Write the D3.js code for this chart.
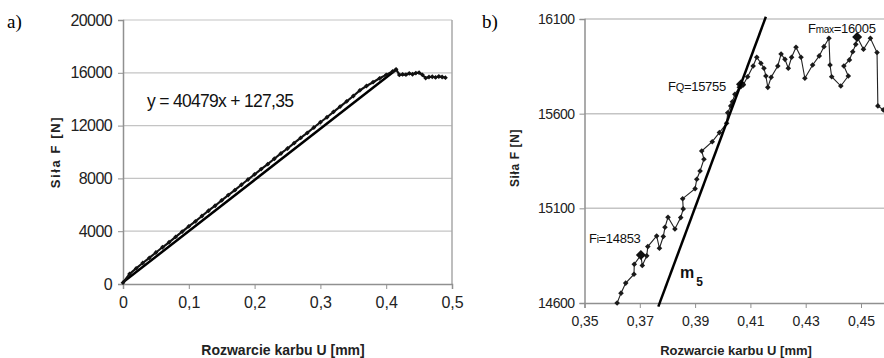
<!DOCTYPE html>
<html>
<head>
<meta charset="utf-8">
<script src="https://cdn.jsdelivr.net/npm/d3@7"></script>
<style>
  body { margin: 0; background: #fff; }
  svg { font-family: "Liberation Sans", Arial, sans-serif; }
</style>
</head>
<body>
<div class="chart"></div>
<script>
// a) whole test
const leftTicksX = [0, 0.1, 0.2, 0.3, 0.4, 0.5]
const leftTicksY = [0, 4000, 8000, 12000, 16000, 20000]
const leftU = [0, 0.01, 0.02, 0.03, 0.04, 0.05, 0.06, 0.07, 0.08, 0.09, 0.10, 0.11, 0.12, 0.13, 0.14, 0.15, 0.16, 0.17, 0.18, 0.19, 0.20,
  0.21, 0.22, 0.23, 0.24, 0.25, 0.26, 0.27, 0.28, 0.29, 0.30, 0.31, 0.32, 0.33, 0.34, 0.35, 0.36, 0.37, 0.38, 0.39, 0.40, 0.41, 0.415,
  0.42, 0.425, 0.43, 0.435, 0.44, 0.445, 0.45, 0.455, 0.46, 0.465, 0.47, 0.475, 0.48, 0.485, 0.49]
const leftF = [100, 765, 1183, 1591, 1979, 2387, 2784, 3162, 3570, 3968, 4366, 4744, 5152, 5550, 5928, 6336, 6733, 7111, 7519, 7917, 8305,
  8703, 9081, 9489, 9887, 10265, 10672, 11070, 11448, 11856, 12254, 12632, 13040, 13438, 13836, 14244, 14671, 14999, 15287, 15585, 15843, 16111, 16265,
  15840, 15880, 15860, 15950, 15890, 15980, 16010, 15850, 15600, 15680, 15700, 15650, 15720, 15680, 15630]
const fitU = [0, 0.416]
const fitF = [127, 16265]
const fitLabel = 'y = 40479x + 127,35'

// b) detail near FQ
const rightTicksX = [0.35, 0.37, 0.39, 0.41, 0.43, 0.45]
const rightTicksY = [14600, 15100, 15600, 16100]
const rightU = [0.3618, 0.3632, 0.3649, 0.3679, 0.3680, 0.3704, 0.3709, 0.3725, 0.3729, 0.3761, 0.3771, 0.3785, 0.3791, 0.3802, 0.3827,
  0.3848, 0.3857, 0.3855, 0.3900, 0.3906, 0.3918, 0.3932, 0.3924, 0.3962, 0.3988, 0.4014, 0.4018, 0.4029, 0.4035, 0.4044, 0.4060, 0.4066,
  0.4074, 0.4090, 0.4110, 0.4123, 0.4138, 0.4149, 0.4156, 0.4163, 0.4175, 0.4199, 0.4211, 0.4225, 0.4237, 0.4249, 0.4265, 0.4283, 0.4297,
  0.4325, 0.4349, 0.4366, 0.4384, 0.4388, 0.4394, 0.4427, 0.4454, 0.4438, 0.4458, 0.4470, 0.4481, 0.4486, 0.4509, 0.4534, 0.4558, 0.4561,
  0.4581, 0.4600]
const rightF = [14600, 14652, 14705, 14752, 14805, 14853, 14798, 14849, 14898, 14954, 14889, 14951, 15000, 15053, 14991,
  15051, 15097, 15151, 15204, 15254, 15297, 15359, 15403, 15452, 15500, 15549, 15605, 15641, 15663, 15702, 15739, 15755,
  15752, 15795, 15852, 15898, 15866, 15840, 15799, 15739, 15792, 15852, 15915, 15887, 15840, 15898, 15951, 15898, 15787,
  15857, 15905, 15954, 15998, 15857, 15795, 15746, 15799, 15852, 15884, 15927, 15966, 16005, 15940, 15998, 15923, 15641,
  15620, 15600]
const m5U = [0.3767, 0.4156]
const m5F = [14581, 16112]
const marks = [
  {i: 5, sub: 'i', label: '=14853'},
  {i: 31, sub: 'Q', label: '=15755'},
  {i: 61, sub: 'max', label: '=16005'}
]

const width = 884
const height = 358

let svg = d3.select('.chart')
  .append('svg')
  .attr('width', width)
  .attr('height', height)

const comma = d => String(d).replace('.', ',')
const diamond = r => `M0,${-r}L${r},0L0,${r}L${-r},0Z`

// ---------- a) ----------
let xL = d3.scaleLinear().domain([0, 0.5]).range([123, 452])
let yL = d3.scaleLinear().domain([0, 20000]).range([284, 20])

let gL = svg.append('g')

gL.selectAll('.grid')
  .data(leftTicksY.slice(1))
  .enter()
  .append('line')
  .attr('x1', xL(0)).attr('x2', xL(0.5))
  .attr('y1', d => yL(d)).attr('y2', d => yL(d))
  .attr('stroke', '#c4c4c4')
  .attr('stroke-width', 1.2)

gL.append('line')
  .attr('x1', xL(0.5)).attr('x2', xL(0.5))
  .attr('y1', yL(0)).attr('y2', yL(20000))
  .attr('stroke', '#a8a8a8').attr('stroke-width', 1.5)

gL.append('g')
  .attr('transform', `translate(0,${yL(0)})`)
  .call(d3.axisBottom(xL).tickValues(leftTicksX).tickSize(5).tickPadding(8).tickFormat(comma))
  .call(g => g.select('.domain').attr('stroke', '#909090').attr('stroke-width', 1.5))
  .call(g => g.selectAll('.tick line').attr('stroke', '#909090'))
  .call(g => g.selectAll('text').attr('font-size', 16).attr('fill', '#222').attr('font-family', '"Liberation Sans", Arial'))

gL.append('g')
  .attr('transform', `translate(${xL(0)},0)`)
  .call(d3.axisLeft(yL).tickValues(leftTicksY).tickSize(5).tickPadding(6).tickFormat(d => d))
  .call(g => g.select('.domain').attr('stroke', '#909090').attr('stroke-width', 1.5))
  .call(g => g.selectAll('.tick line').attr('stroke', '#909090'))
  .call(g => g.selectAll('text').attr('font-size', 16).attr('fill', '#222').attr('letter-spacing', -0.6).attr('font-family', '"Liberation Sans", Arial'))

let lineL = d3.line().x(d => xL(d[0])).y(d => yL(d[1]))

gL.append('path')
  .datum(d3.zip(fitU, fitF))
  .attr('d', lineL)
  .attr('fill', 'none')
  .attr('stroke', '#000')
  .attr('stroke-width', 2.5)

gL.append('path')
  .datum(d3.zip(leftU, leftF))
  .attr('d', lineL)
  .attr('fill', 'none')
  .attr('stroke', '#111')
  .attr('stroke-width', 2.2)

gL.selectAll('.ptL')
  .data(d3.zip(leftU, leftF))
  .enter()
  .append('path')
  .attr('d', diamond(2.4))
  .attr('transform', d => `translate(${xL(d[0])},${yL(d[1])})`)
  .attr('fill', '#111')

gL.append('text')
  .attr('x', 147).attr('y', 107)
  .attr('font-size', 17.5)
  .attr('letter-spacing', -0.7)
  .attr('fill', '#111')
  .text(fitLabel)

gL.append('text')
  .attr('transform', 'translate(60,152) rotate(-90)')
  .attr('text-anchor', 'middle')
  .attr('font-size', 13)
  .attr('font-weight', 'bold')
  .attr('letter-spacing', 1.6)
  .attr('fill', '#222')
  .text('Siła F [N]')

gL.append('text')
  .attr('x', 283).attr('y', 355)
  .attr('text-anchor', 'middle')
  .attr('font-size', 14)
  .attr('font-weight', 'bold')
  .attr('fill', '#222')
  .text('Rozwarcie karbu U [mm]')

svg.append('text')
  .attr('x', 7).attr('y', 28)
  .attr('font-size', 19)
  .style('font-family', '"Liberation Serif", "Times New Roman", serif')
  .text('a)')

// ---------- b) ----------
let xR = d3.scaleLinear().domain([0.35, 0.47]).range([584.5, 584.5 + 0.12 * 2765])
let yR = d3.scaleLinear().domain([14600, 16100]).range([303, 19])

let gR = svg.append('g')

gR.selectAll('.grid')
  .data(rightTicksY.slice(1))
  .enter()
  .append('line')
  .attr('x1', xR(0.35)).attr('x2', xR(0.47))
  .attr('y1', d => yR(d)).attr('y2', d => yR(d))
  .attr('stroke', '#c4c4c4')
  .attr('stroke-width', 1.5)

gR.append('g')
  .attr('transform', `translate(0,${yR(14600)})`)
  .call(d3.axisBottom(xR).tickValues(rightTicksX).tickSize(5).tickPadding(8).tickFormat(d => comma(d.toFixed(2))))
  .call(g => g.select('.domain').attr('stroke', '#909090').attr('stroke-width', 1.5))
  .call(g => g.selectAll('.tick line').attr('stroke', '#909090'))
  .call(g => g.selectAll('text').attr('font-size', 14).attr('fill', '#222').attr('font-family', '"Liberation Sans", Arial'))

gR.append('g')
  .attr('transform', `translate(${xR(0.35)},0)`)
  .call(d3.axisLeft(yR).tickValues(rightTicksY).tickSize(5).tickPadding(5).tickFormat(d => d))
  .call(g => g.select('.domain').attr('stroke', '#909090').attr('stroke-width', 1.5))
  .call(g => g.selectAll('.tick line').attr('stroke', '#909090'))
  .call(g => g.selectAll('text').attr('font-size', 14).attr('fill', '#222').attr('letter-spacing', -0.5).attr('font-family', '"Liberation Sans", Arial'))

let lineR = d3.line().x(d => xR(d[0])).y(d => yR(d[1]))
let ptsR = d3.zip(rightU, rightF)

gR.append('path')
  .datum(ptsR)
  .attr('d', lineR)
  .attr('fill', 'none')
  .attr('stroke', '#222')
  .attr('stroke-width', 1.1)

gR.selectAll('.ptR')
  .data(ptsR)
  .enter()
  .append('path')
  .attr('d', diamond(2.8))
  .attr('transform', d => `translate(${xR(d[0])},${yR(d[1])})`)
  .attr('fill', '#1a1a1a')

gR.selectAll('.big')
  .data(marks)
  .enter()
  .append('path')
  .attr('d', diamond(5))
  .attr('transform', d => `translate(${xR(rightU[d.i])},${yR(rightF[d.i])})`)
  .attr('fill', '#111')

gR.append('path')
  .datum(d3.zip(m5U, m5F))
  .attr('d', lineR)
  .attr('fill', 'none')
  .attr('stroke', '#000')
  .attr('stroke-width', 2.5)

// labels of the marked points
let labelPos = [[589, 243], [668, 91], [808, 33]]
marks.forEach((m, k) => {
  let t = gR.append('text')
    .attr('x', labelPos[k][0]).attr('y', labelPos[k][1])
    .attr('font-size', 13)
    .attr('letter-spacing', -0.3)
    .attr('fill', '#111')
  t.append('tspan').text('F')
  t.append('tspan').attr('font-size', m.sub == 'Q' ? 11 : 10).text(m.sub)
  t.append('tspan').text(m.label)
})

let m5 = gR.append('text')
  .attr('x', 680).attr('y', 278)
  .attr('font-size', 16)
  .attr('font-weight', 'bold')
  .attr('fill', '#111')
m5.append('tspan').text('m')
m5.append('tspan').attr('font-size', 12).attr('dx', 2).attr('dy', 8).text('5')

gR.append('text')
  .attr('transform', 'translate(519,158) rotate(-90)')
  .attr('text-anchor', 'middle')
  .attr('font-size', 12)
  .attr('font-weight', 'bold')
  .attr('letter-spacing', 0.6)
  .attr('fill', '#222')
  .text('Siła F [N]')

gR.append('text')
  .attr('x', 736).attr('y', 355)
  .attr('text-anchor', 'middle')
  .attr('font-size', 13)
  .attr('font-weight', 'bold')
  .attr('fill', '#222')
  .text('Rozwarcie karbu U [mm]')

svg.append('text')
  .attr('x', 482).attr('y', 28)
  .attr('font-size', 19)
  .style('font-family', '"Liberation Serif", "Times New Roman", serif')
  .text('b)')
</script>
</body>
</html>
